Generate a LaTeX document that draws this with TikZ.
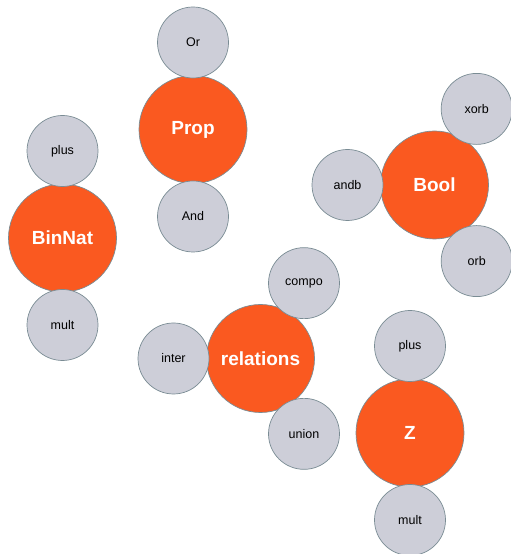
\documentclass[tikz,border=0pt]{standalone}
\usepackage{fontspec}
\setmainfont{Liberation Sans}
\definecolor{modfill}{RGB}{250,89,32}
\definecolor{fnfill}{RGB}{205,206,216}
\definecolor{rimgray}{RGB}{122,140,148}

\begin{document}
\begin{tikzpicture}[x=1pt,y=1pt,node distance=87pt,line width=0.7pt]
          \tikzstyle{module}=[circle,draw=rimgray,fill=modfill,text=white,inner sep=0pt,
                              minimum size=108pt,font=\fontsize{19}{21}\selectfont\bfseries]
          \tikzstyle{fn}=[circle,draw=rimgray,fill=fnfill,text=black,inner sep=0pt,
                          minimum size=71pt,font=\fontsize{12.5}{14}\selectfont]
          \useasboundingbox (0,0) rectangle (511,554);

          \node[module] (prop)      at (193,424.5) {Prop};
          \node[module] (binnat)    at (62.5,316)  {BinNat};
          \node[module] (bool)      at (434.5,369) {Bool};
          \node[module] (relations) at (260.5,195.5) {relations};
          \node[module] (z)         at (410,121)   {Z};

          \node[fn] (or)  [above of=prop] {Or};
          \node[fn] (and) [below of=prop] {And};

          \node[fn] (bnplus) [above of=binnat] {plus};
          \node[fn] (bnmult) [below of=binnat] {mult};

          \node[fn] (andb) [left of=bool] {andb};
          \node[fn] (xorb) at ([shift={(61:87)}]bool.center)  {xorb};
          \node[fn] (orb)  at ([shift={(-61:87)}]bool.center) {orb};

          \node[fn] (inter) [left of=relations] {inter};
          \node[fn] (compo) at ([shift={(60:87)}]relations.center)  {compo};
          \node[fn] (union) at ([shift={(-60:87)}]relations.center) {union};

          \node[fn] (zplus) [above of=z] {plus};
          \node[fn] (zmult) [below of=z] {mult};

        \end{tikzpicture}
\end{document}
